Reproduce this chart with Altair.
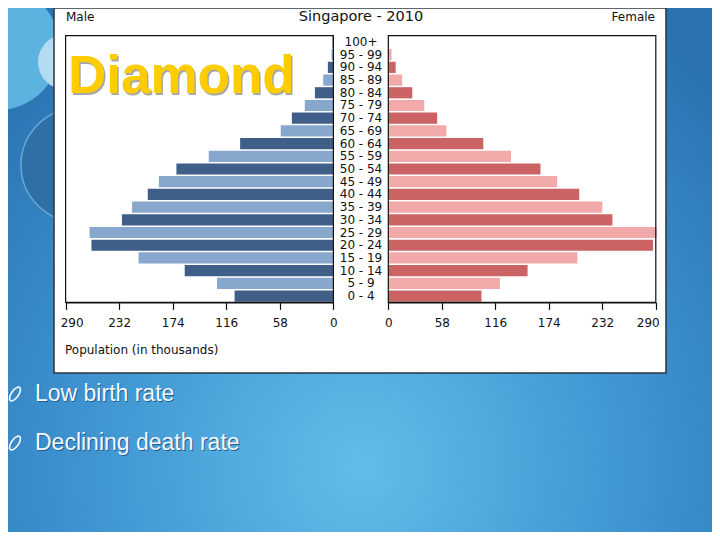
import altair as alt
import pandas as pd

# ---- data ----
ages = ["0 - 4", "5 - 9", "10 - 14", "15 - 19", "20 - 24", "25 - 29", "30 - 34",
        "35 - 39", "40 - 44", "45 - 49", "50 - 54", "55 - 59", "60 - 64",
        "65 - 69", "70 - 74", "75 - 79", "80 - 84", "85 - 89", "90 - 94",
        "95 - 99", "100+"]
male = [107, 126, 161, 211, 262, 264, 229, 218, 201, 189, 170, 135, 101,
        57, 45, 31, 20, 11, 6, 2, 1]
female = [101, 121, 151, 205, 287, 291, 243, 232, 207, 183, 165, 133, 103,
          63, 53, 39, 26, 15, 8, 3.5, 0.8]
tick_values = [0, 58, 116, 174, 232, 290]
chart_title = "Singapore - 2010"
left_label = "Male"
right_label = "Female"
axis_title = "Population (in thousands)"
slide_word = "Diamond"
bullets = ["Low birth rate", "Declining death rate"]

df = pd.DataFrame({
    "age": ages,
    "male": male,
    "female": female,
    "shade": ["dark" if i % 2 == 0 else "light" for i in range(len(ages))],
})
one = pd.DataFrame({"k": [0]})

W, H = 704, 524
FONT = "DejaVu Sans"
MALE_D, MALE_L = "#3f5e88", "#87a7cd"
FEM_D, FEM_L = "#cb6264", "#f2a9aa"

# panel geometry (view pixels)
L0, L1 = 325.4, 57.6      # male: value 0 -> 325.4, 290 -> 57.6
R0, R1 = 380.3, 647.8     # female
TOP, BOT = 27.6, 294.4

yscale = alt.Scale(domain=ages[::-1], range=[TOP, BOT], paddingInner=0.12, paddingOuter=0.06)

def axis(end_shift):
    return alt.Axis(orient="bottom", offset=BOT - H, values=tick_values, title=None,
                    grid=False, domainColor="#111", tickColor="#111", tickSize=7,
                    labelPadding=8, labelFontSize=12, labelFont=FONT, labelColor="#111",
                    format="d", labelFlush=False, labelOverlap=False, domainWidth=1.2,
                    tickWidth=1.2, zindex=2,
                    labelOffset={"condition": {"test": "datum.value == 290", "value": end_shift},
                                 "value": 0})

# background
bg = alt.Chart(one).mark_rect(
    fill=alt.RadialGradient(
        gradient="radial",
        stops=[alt.GradientStop(offset=0, color="#62bde9"),
               alt.GradientStop(offset=0.55, color="#3d92cf"),
               alt.GradientStop(offset=1, color="#2a72b0")],
        x1=0.5, y1=0.78, r1=0, x2=0.5, y2=0.78, r2=0.75)
).encode(x=alt.value(0), x2=alt.value(W), y=alt.value(0), y2=alt.value(H))

deco1 = alt.Chart(one).mark_circle(opacity=1, color="#5cb3df").encode(
    x=alt.value(-10), y=alt.value(40), size=alt.value(124 * 124))
deco2 = alt.Chart(one).mark_circle(opacity=1, color="#b3dbf1").encode(
    x=alt.value(58), y=alt.value(54), size=alt.value(56 * 56))
deco3 = alt.Chart(one).mark_circle(opacity=1, color="#2e6fa6", stroke="#6aa6d4",
                                   strokeWidth=1.5).encode(
    x=alt.value(70), y=alt.value(157), size=alt.value(114 * 114))

box = alt.Chart(one).mark_rect(fill="white", stroke="#2a3440", strokeWidth=1.5).encode(
    x=alt.value(46), x2=alt.value(658), y=alt.value(0), y2=alt.value(365))

male_bars = alt.Chart(df).mark_bar().encode(
    x=alt.X("male:Q", scale=alt.Scale(domain=[0, 290], range=[L0, L1]), axis=axis(6)),
    y=alt.Y("age:N", scale=yscale, axis=None),
    color=alt.condition(alt.datum.shade == "dark", alt.value(MALE_D), alt.value(MALE_L)),
)
female_bars = alt.Chart(df).mark_bar().encode(
    x=alt.X("female:Q", scale=alt.Scale(domain=[0, 290], range=[R0, R1]), axis=axis(-8)),
    y=alt.Y("age:N", scale=yscale, axis=None),
    color=alt.condition(alt.datum.shade == "dark", alt.value(FEM_D), alt.value(FEM_L)),
)

age_text = alt.Chart(df).mark_text(font=FONT, fontSize=12, color="#111",
                                   align="center", baseline="middle").encode(
    x=alt.value(353), y=alt.Y("age:N", scale=yscale, axis=None), text="age:N")

frame_l = alt.Chart(one).mark_rect(fill="transparent", stroke="#111", strokeWidth=1.2).encode(
    x=alt.value(L1), x2=alt.value(L0), y=alt.value(TOP), y2=alt.value(BOT))
frame_r = alt.Chart(one).mark_rect(fill="transparent", stroke="#111", strokeWidth=1.2).encode(
    x=alt.value(R0), x2=alt.value(R1), y=alt.value(TOP), y2=alt.value(BOT))

def txt(s, x, y, size, align="left", color="#111", font=FONT, weight="normal", baseline="middle"):
    return alt.Chart(pd.DataFrame({"t": [s]})).mark_text(
        font=font, fontSize=size, color=color, align=align, baseline=baseline,
        fontWeight=weight).encode(x=alt.value(x), y=alt.value(y), text="t:N")

title_t = txt(chart_title, 353, 8.5, 14.5, align="center")
male_t = txt(left_label, 58, 8.5, 12)
fem_t = txt(right_label, 647, 8.5, 12, align="right")
axis_t = txt(axis_title, 57, 342, 12)

diamond_shadow = txt(slide_word, 61.5, 87, 53, color="#a8a8a8", font="Liberation Sans",
                     weight="bold", baseline="alphabetic")
diamond = txt(slide_word, 60, 85, 53, color="#ffcc00", font="Liberation Sans",
              weight="bold", baseline="alphabetic")

bullet_layers = []
for i, b in enumerate(bullets):
    yy = 386 + i * 49
    bullet_layers.append(txt(b, 28, yy + 1, 23, color="#1f5d8f", font="Liberation Sans"))
    bullet_layers.append(txt(b, 27, yy, 23, color="#f4f8fb", font="Liberation Sans"))
    bullet_layers.append(
        alt.Chart(one).mark_point(
            shape="M0,-1 A0.45,1 0 1,1 0,1 A0.45,1 0 1,1 0,-1 Z",
            filled=False, stroke="#f4f8fb", strokeWidth=1.6, angle=35, opacity=1
        ).encode(x=alt.value(7), y=alt.value(yy), size=alt.value(256))
    )

chart = alt.layer(
    bg, deco1, deco2, deco3, box,
    male_bars, female_bars, frame_l, frame_r, age_text,
    title_t, male_t, fem_t, axis_t, diamond_shadow, diamond,
    *bullet_layers,
).resolve_scale(x="independent").properties(
    width=W, height=H, padding=0,
    autosize=alt.AutoSizeParams(type="none"),
).configure_view(stroke="transparent")

chart.save("out.html", embed_options={"renderer": "svg", "actions": False})
